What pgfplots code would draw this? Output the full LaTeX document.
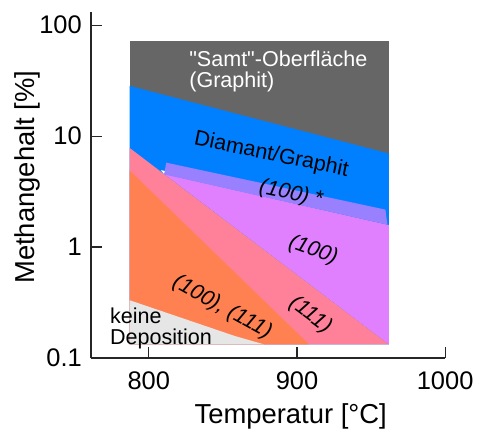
\documentclass[border=0pt]{standalone}
\usepackage{pgfplots}
\pgfplotsset{compat=1.18}
\usepackage{fontspec}
\setmainfont{Liberation Sans}
% same face, without the TeX quote ligatures (straight quotes)
\newfontfamily\plainfont{Liberation Sans}[Ligatures=TeXOff]

\definecolor{samt}{HTML}{666666}
\definecolor{diagraph}{HTML}{0080FF}
\definecolor{hundredstar}{HTML}{9980FF}
\definecolor{hundred}{HTML}{E080FF}
\definecolor{oneoneone}{HTML}{FF8099}
\definecolor{mixed}{HTML}{FF8050}
\definecolor{nodep}{HTML}{E6E6E6}

\begin{document}
\begin{tikzpicture}
% overall frame of the figure
\path (-46.5pt,-36.65pt) rectangle (193.5pt,182.85pt);
\begin{axis}[
  at={(0,0)}, anchor=south west,
  scale only axis, width=180.86pt, height=176.8pt,
  xmin=761, xmax=1000, ymode=log, ymin=0.1, ymax=132,
  axis x line=bottom, axis y line=left,
  axis line style={-, black!85, line width=0.6pt},
  xtick={800,900,1000}, xticklabels={800,900,1000},
  ytick={0.1,1,10,100}, yticklabels={0.1,1,10,100},
  yminorticks=false,
  tick align=inside, major tick length=5.5pt,
  tick style={black!85, line width=0.6pt},
  ticklabel style={font=\fontsize{13}{15}\selectfont},
  xticklabel style={yshift=-3.6pt},
  yticklabel style={xshift=-1.2pt},
  label style={font=\fontsize{14}{16}\selectfont},
  xlabel={Temperatur [°C]},
  ylabel={Methangehalt [\%]},
  xlabel style={at={(axis description cs:0.5638,-0.1904)}, anchor=base},
  ylabel style={at={(axis description cs:-0.1605,0.5225)}, anchor=base},
]
% "Samt"-Oberflaeche (graphite), whole window
\addplot[fill=samt, draw=none] coordinates {(787,0.1324) (787,71.8) (962,71.8) (962,0.1324)} -- cycle;
% diamond/graphite
\addplot[fill=diagraph, draw=none] coordinates {(787,0.1324) (787,28.4) (962,6.97) (962,0.1324)} -- cycle;
% (100)
\addplot[fill=hundred, draw=none] coordinates {(810.4,4.55) (962,1.58) (962,0.1324)} -- cycle;
% (111)
\addplot[fill=oneoneone, draw=none] coordinates {(787,7.83) (962,0.1324) (787,0.1324)} -- cycle;
% (100), (111)
\addplot[fill=mixed, draw=none] coordinates {(787,4.91) (908.2,0.1324) (787,0.1324)} -- cycle;
% no deposition
\addplot[fill=nodep, draw=none] coordinates {(787,0.332) (858,0.158) (878,0.1324) (787,0.1324)} -- cycle;
% small gap at the left end of the (100)* band
\addplot[fill=white, draw=none] coordinates {(808.1,4.93) (811.0,4.86) (810.4,4.55)} -- cycle;
% (100)* band
\addplot[fill=hundredstar, draw=none] coordinates {(811.7,5.77) (959.7,2.176) (961.0,1.594) (810.4,4.52)} -- cycle;
\end{axis}
\begin{scope}[every node/.style={inner sep=0pt, font=\fontsize{11}{13}\selectfont}]
\node[anchor=base west, text=white] at (50pt,149.1pt) {{\plainfont"Samt"}-Oberfläche};
\node[anchor=base west, text=white] at (50pt,138.1pt) {(Graphit)};
\node[anchor=base, rotate=-11.6] at (91.5pt,100.85pt) {Diamant/Graphit};
\node[rotate=-12] at (102.25pt,83.85pt) {\textit{(100)} *};
\node[rotate=-20] at (113.5pt,54.85pt) {\textit{(100)}};
\node[rotate=-37] at (112.25pt,22pt) {\textit{(111)}};
\node[rotate=-29] at (67pt,25.75pt) {\textit{(100), (111)}};
\node[anchor=base west] at (9.5pt,17.85pt) {keine};
\node[anchor=base west] at (9.5pt,6.7pt) {Deposition};
\end{scope}
\end{tikzpicture}
\end{document}
